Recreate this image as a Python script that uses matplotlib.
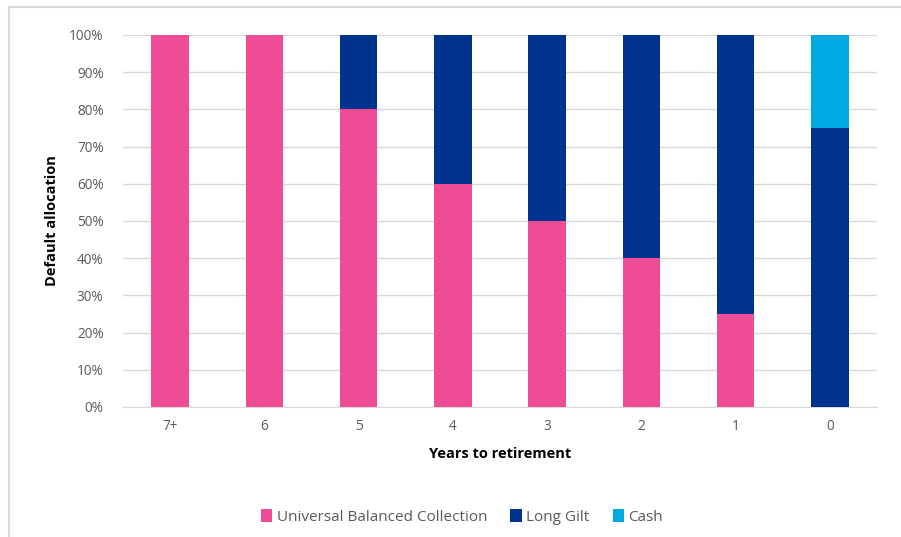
import matplotlib
matplotlib.use("Agg")
import matplotlib.pyplot as plt
from matplotlib.patches import Rectangle
from matplotlib.ticker import PercentFormatter

plt.rcParams['font.family'] = ['Open Sans', 'DejaVu Sans']

years = ["7+", "6", "5", "4", "3", "2", "1", "0"]
balanced = [100, 100, 80, 60, 50, 40, 25, 0]
long_gilt = [0, 0, 20, 40, 50, 60, 75, 75]
cash = [0, 0, 0, 0, 0, 0, 0, 25]

c_bal = "#EE4D96"
c_gilt = "#00338D"
c_cash = "#00A9E0"

fig = plt.figure(figsize=(9.01, 5.37), dpi=100)
# outer chart frame
fig.patches.append(Rectangle((9 / 901, -0.1), 1.2, 1 - 7 / 537 + 0.1,
                             transform=fig.transFigure, fill=False,
                             edgecolor="#D9D9D9", linewidth=1.5))

ax = fig.add_axes([123 / 901, 1 - 407 / 537, (877 - 123) / 901, (407 - 35) / 537])
x = range(len(years))
w = 0.40
ax.bar(x, balanced, w, color=c_bal, label="Universal Balanced Collection", zorder=3)
ax.bar(x, long_gilt, w, bottom=balanced, color=c_gilt, label="Long Gilt", zorder=3)
bot2 = [a + b for a, b in zip(balanced, long_gilt)]
ax.bar(x, cash, w, bottom=bot2, color=c_cash, label="Cash", zorder=3)

ax.set_xlim(-0.5, len(years) - 0.5)
ax.set_ylim(0, 100)
ax.set_yticks(range(0, 101, 10))
ax.yaxis.set_major_formatter(PercentFormatter(decimals=0))
ax.set_xticks(list(x))
ax.set_xticklabels(years)
ax.grid(axis="y", color="#D9D9D9", linewidth=1, zorder=0)
ax.tick_params(length=0, labelsize=9.8, labelcolor="#595959", pad=9)
ax.tick_params(axis="y", pad=14)
for s in ["top", "right", "left"]:
    ax.spines[s].set_visible(False)
ax.spines["bottom"].set_color("#D9D9D9")

ax.set_ylabel("Default allocation", fontsize=10.5, fontweight="bold", labelpad=7)
ax.set_xlabel("Years to retirement", fontsize=10.5, fontweight="bold", labelpad=9)

fig.legend(loc="center", bbox_to_anchor=(462 / 901, 1 - 517 / 537), ncol=3,
           frameon=False, fontsize=11, handlelength=0.75, handleheight=0.9,
           handletextpad=0.3, columnspacing=1.5, labelcolor="#595959")

fig.savefig("out.png", dpi=100)
